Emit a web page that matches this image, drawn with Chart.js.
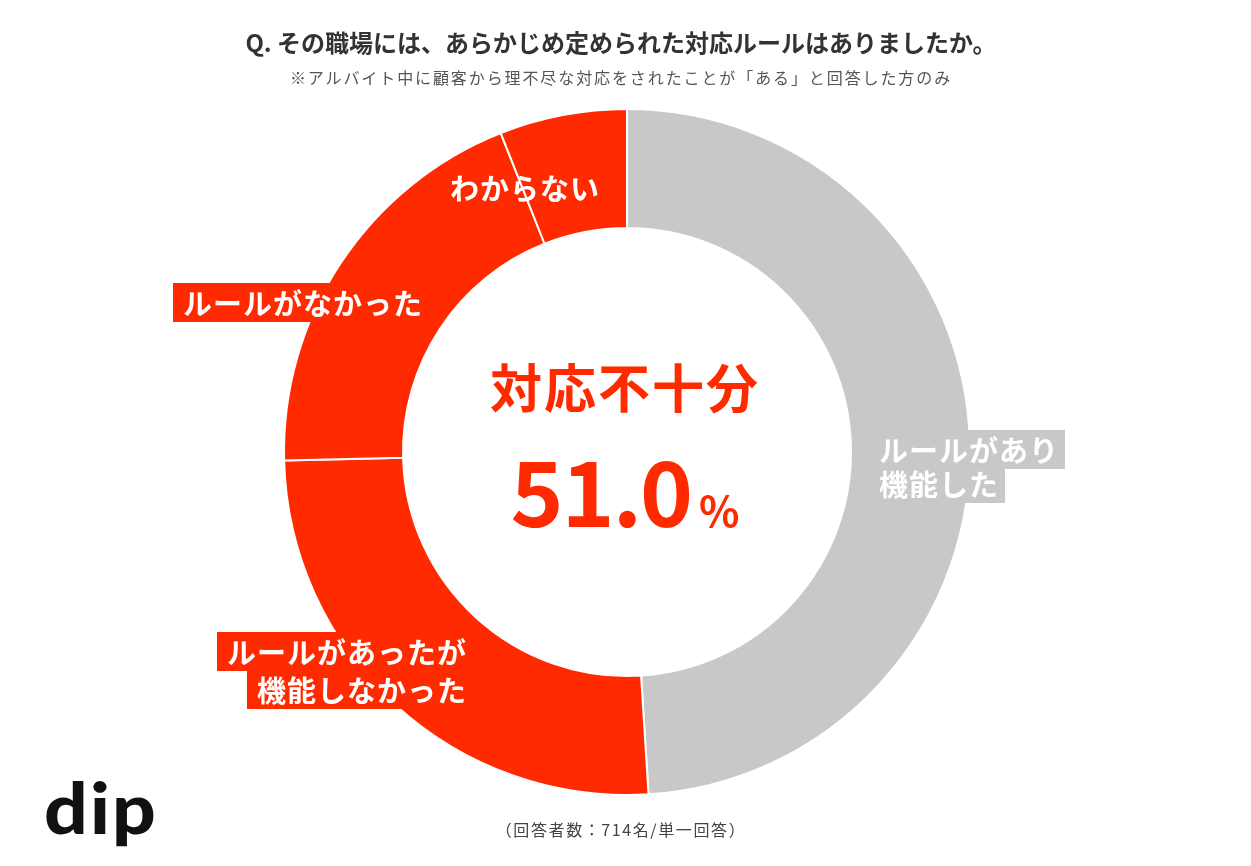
<!DOCTYPE html>
<html><head><meta charset="utf-8">
<script src="https://cdn.jsdelivr.net/npm/chart.js@4.4.1/dist/chart.umd.min.js"></script>
<style>
html,body{margin:0;padding:0;background:#fff;width:1251px;height:866px;overflow:hidden;font-family:"Noto Sans CJK JP","Noto Sans",sans-serif;}
#wrap{position:relative;width:1251px;height:866px;}
canvas{position:absolute;left:0;top:0;}
.t{position:absolute;white-space:nowrap;left:0;width:1242px;text-align:center;}
#title{top:25px;font-size:24px;font-weight:700;color:#333;line-height:34px;}
#sub{top:65px;font-size:16px;color:#555;line-height:24px;letter-spacing:1.9px;}
#foot{top:817px;font-size:16px;color:#444;line-height:24px;letter-spacing:1.6px;}
#logo{position:absolute;left:44px;top:767px;font-family:Lato,"Noto Sans",sans-serif;font-weight:900;font-size:71px;color:#111;line-height:80px;letter-spacing:2px;transform:scaleX(1.08);transform-origin:left center;}
</style></head>
<body><div id="wrap">
<canvas id="c" width="1251" height="866"></canvas>
<div class="t" id="title">Q. その職場には、あらかじめ定められた対応ルールはありましたか。</div>
<div class="t" id="sub">※アルバイト中に顧客から理不尽な対応をされたことが「ある」と回答した方のみ</div>
<div class="t" id="foot">（回答者数：714名/単一回答）</div>
<div id="logo">dip</div>
</div>
<script>
const categories = ['ルールがあり機能した', 'ルールがあったが機能しなかった', 'ルールがなかった', 'わからない'];
const values = [49.0, 25.6, 19.4, 6.0];
const colors = ['#c8c8c8', '#ff2a00', '#ff2a00', '#ff2a00'];
const labelLines = [['ルールがあり', '機能した'], ['ルールがあったが', '機能しなかった'], ['ルールがなかった'], ['わからない']];
const centerLabel = '対応不十分';
const centerValue = (values[1] + values[2] + values[3]).toFixed(1);

// label annotation layout (offsets from chart center, px)
const labelLayout = [
  {dx: 252, dy: -2, align: 'left', lh: 34, box: true},
  {dx: -160, dy: 200, align: 'right', lh: 38, box: true},
  {dx: -444, dy: -149, align: 'left', lh: 38, box: true},
  {dx: -102, dy: -264, align: 'center', lh: 38, box: false}
];

const labelPlugin = {
  id: 'segLabels',
  afterDatasetsDraw(chart) {
    const ctx = chart.ctx;
    const meta = chart.getDatasetMeta(0);
    const a0 = meta.data[0];
    const cx = a0.x, cy = a0.y;
    ctx.save();
    ctx.textBaseline = 'middle';
    ctx.font = '700 29px "Noto Sans CJK JP"';
    ctx.letterSpacing = '1px';
    const pos = (L, txt, j) => {
      const w = ctx.measureText(txt).width;
      const y = cy + L.dy + j * L.lh;
      let x0;
      if (L.align === 'left') x0 = cx + L.dx;
      else if (L.align === 'right') x0 = cx + L.dx - w;
      else x0 = cx + L.dx - w / 2;
      return {x0, y, w};
    };
    labelLines.forEach((lines, i) => {
      const L = labelLayout[i];
      if (!L.box) return;
      lines.forEach((txt, j) => {
        const p = pos(L, txt, j);
        ctx.fillStyle = colors[i];
        ctx.fillRect(p.x0 - 10, p.y - 20, p.w + 16, 39);
      });
    });
    labelLines.forEach((lines, i) => {
      const L = labelLayout[i];
      lines.forEach((txt, j) => {
        const p = pos(L, txt, j);
        ctx.fillStyle = '#ffffff';
        ctx.textAlign = 'left';
        ctx.fillText(txt, p.x0, p.y + 1);
      });
    });
    // center text
    ctx.letterSpacing = '2px';
    ctx.fillStyle = '#ff2a00';
    ctx.textAlign = 'center';
    ctx.font = '700 52px "Noto Sans CJK JP"';
    ctx.fillText(centerLabel, cx - 2, cy - 64);
    ctx.textBaseline = 'alphabetic';
    ctx.textAlign = 'left';
    ctx.letterSpacing = '-2px';
    ctx.font = '700 90px "Noto Sans CJK JP"';
    const w1 = ctx.measureText(centerValue).width;
    ctx.letterSpacing = '0px';
    ctx.font = '700 42px "Noto Sans CJK JP"';
    const w2 = ctx.measureText('%').width;
    const gap = 8;
    const sx = cx - 2 - (w1 + gap + w2) / 2;
    ctx.letterSpacing = '-2px';
    ctx.font = '700 90px "Noto Sans CJK JP"';
    ctx.fillText(centerValue, sx, cy + 75);
    ctx.letterSpacing = '0px';
    ctx.font = '700 42px "Noto Sans CJK JP"';
    ctx.fillText('%', sx + w1 + gap, cy + 75);
    ctx.restore();
  }
};

new Chart(document.getElementById('c'), {
  type: 'doughnut',
  data: {
    labels: categories,
    datasets: [{
      data: values,
      backgroundColor: colors,
      borderColor: '#ffffff',
      borderWidth: 2,
      hoverOffset: 0
    }]
  },
  options: {
    responsive: false,
    animation: false,
    devicePixelRatio: 1,
    cutout: '65.3%',
    layout: {padding: {left: 283, top: 108, right: 280, bottom: 70}},
    plugins: {legend: {display: false}, tooltip: {enabled: false}, title: {display: false}}
  },
  plugins: [labelPlugin]
});
</script>
</body></html>
